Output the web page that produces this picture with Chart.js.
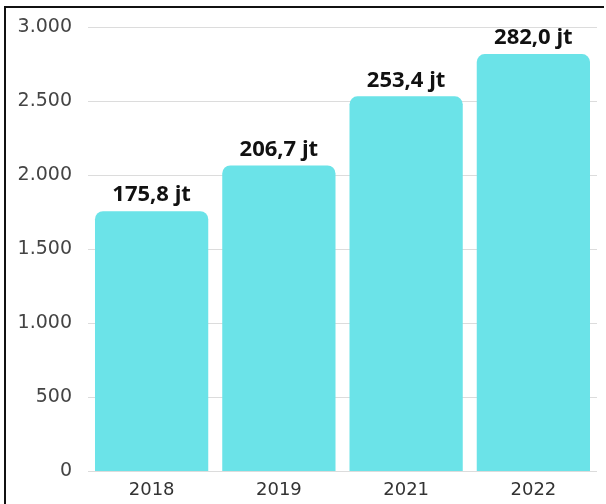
<!DOCTYPE html>
<html>
<head>
<meta charset="utf-8">
<script src="https://cdn.jsdelivr.net/npm/chart.js@4/dist/chart.umd.min.js"></script>
<style>
  body { margin: 0; background: #fff; }
  #wrap { position: relative; width: 606px; height: 504px; }
  #frame { position: absolute; left: 4px; top: 6px; width: 598px; height: 498px;
           border-top: 2px solid #111; border-left: 2px solid #111; pointer-events: none; }
</style>
</head>
<body>
<div id="wrap">
  <canvas id="chart1" width="606" height="504"></canvas>
  <div id="frame"></div>
</div>
<script>
// data
const years = ['2018', '2019', '2021', '2022'];
const values = [1758, 2067, 2534, 2820];
const valueLabels = ['175,8 jt', '206,7 jt', '253,4 jt', '282,0 jt'];
const yTicks = [0, 500, 1000, 1500, 2000, 2500, 3000];

// bar top labels
const topLabels = {
  id: 'topLabels',
  afterDatasetsDraw(chart) {
    const ctx = chart.ctx;
    const meta = chart.getDatasetMeta(0);
    ctx.save();
    ctx.font = 'bold 22px "Open Sans"';
    ctx.fillStyle = '#111';
    ctx.textAlign = 'center';
    ctx.textBaseline = 'bottom';
    meta.data.forEach((bar, i) => {
      ctx.fillText(valueLabels[i], bar.x, bar.y - 5);
    });
    ctx.restore();
  }
};

var ctx = document.getElementById('chart1').getContext('2d');
new Chart(ctx, {
  type: 'bar',
  data: {
    labels: years,
    datasets: [{
      data: values,
      backgroundColor: '#6be3e8',
      borderRadius: { topLeft: 8, topRight: 8 },
      borderSkipped: 'start',
      barPercentage: 0.89,
      categoryPercentage: 1.0,
    }],
  },
  options: {
    responsive: false,
    animation: false,
    layout: { padding: { top: 6, right: 9, left: 0, bottom: 3 } },
    plugins: { legend: { display: false }, tooltip: { enabled: false } },
    scales: {
      x: {
        grid: { display: false },
        border: { display: false },
        ticks: { color: '#333', font: { family: '"DejaVu Sans"', size: 18 }, padding: 0 },
      },
      y: {
        min: 0,
        max: 3000,
        afterBuildTicks(scale) {
          scale.ticks = yTicks.map(v => ({ value: v }));
        },
        afterFit(scale) {
          scale.width = 88;
        },
        grid: { color: '#dcdcdc', lineWidth: 1, drawTicks: false },
        border: { display: false },
        ticks: {
          color: '#444',
          padding: 16,
          font: { family: '"DejaVu Sans"', size: 19 },
          callback: v => v.toLocaleString('de-DE'),
        },
      },
    },
  },
  plugins: [topLabels],
});
</script>
</body>
</html>
